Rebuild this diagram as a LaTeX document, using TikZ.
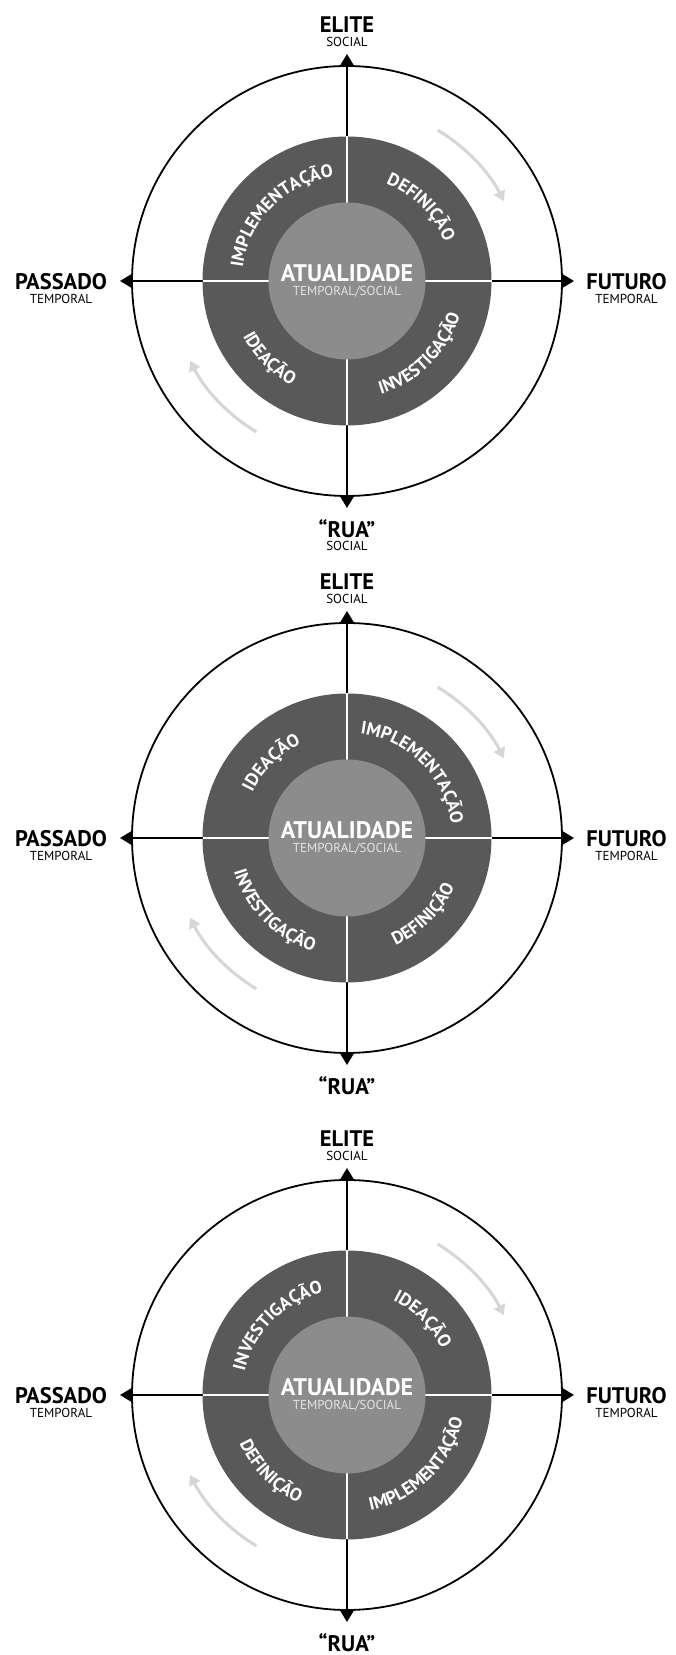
\documentclass[tikz,border=0pt]{standalone}
\usepackage{fontspec}
\setmainfont{PT Sans}
\usetikzlibrary{arrows.meta,decorations.text}
\definecolor{ringdark}{HTML}{595959}
\definecolor{coregray}{HTML}{8C8C8C}
\definecolor{cyclegray}{HTML}{D6D6D6}
\definecolor{subwhite}{HTML}{E4E4E4}
\newcommand\ringfont{\color{white}\bfseries\fontsize{18}{21}\selectfont}
\tikzset{
  axisline/.style={line width=1.8pt, -{Triangle[width=14pt,length=12pt]}},
  outercircle/.style={line width=1.8pt},
  sepline/.style={white, line width=2.6pt},
  cyclearrow/.style={cyclegray, line width=3pt, -{Triangle[width=12pt,length=10pt]}},
  bigbold/.style={font=\bfseries\fontsize{22.5}{26}\selectfont, inner sep=0pt, anchor=base},
  smalllabel/.style={font=\fontsize{13}{15}\selectfont, inner sep=0pt, anchor=base},
  coretitle/.style={font=\bfseries\fontsize{24}{28}\selectfont, text=white, inner sep=0pt, anchor=base},
  coresub/.style={font=\fontsize{13}{15}\selectfont, text=subwhite, inner sep=0pt, anchor=base},
}
% #1 prefix, #2 centre y, #3 top-left, #4 top-right, #5 bottom-left, #6 bottom-right
\newcommand\onediagram[6]{%
\begin{scope}[shift={(347,#2)}]
  \coordinate (#1c) at (0,0);
  \coordinate (#1n) at (0,227);
  \coordinate (#1s) at (0,-227);
  \coordinate (#1w) at (-227,0);
  \coordinate (#1e) at (227,0);
  \draw[axisline] (#1c) -- (#1n);
  \draw[axisline] (#1c) -- (#1s);
  \draw[axisline] (#1c) -- (#1w);
  \draw[axisline] (#1c) -- (#1e);
  \draw[outercircle] (#1c) circle[radius=215];
  \fill[ringdark] (#1c) circle[radius=144.5];
  \draw[sepline] (-144.5,0) -- (144.5,0);
  \draw[sepline] (0,-144.5) -- (0,144.5);
  \fill[coregray] (#1c) circle[radius=78.5];
  \path[decorate,decoration={text along path,text align=center,text={|\ringfont|#3}}]
    (180:105) arc[start angle=180,end angle=90,radius=105];
  \path[decorate,decoration={text along path,text align=center,text={|\ringfont|#4}}]
    (90:105) arc[start angle=90,end angle=0,radius=105];
  \path[decorate,decoration={text along path,text align=center,text={|\ringfont|#5}}]
    (180:118) arc[start angle=180,end angle=270,radius=118];
  \path[decorate,decoration={text along path,text align=center,text={|\ringfont|#6}}]
    (270:118) arc[start angle=270,end angle=360,radius=118];
  \draw[cyclearrow] (59:176) arc[start angle=59,end angle=27,radius=176];
  \draw[cyclearrow] (239:176) arc[start angle=239,end angle=207,radius=176];
  \node[coretitle] (#1atual) at (0,-0.5) {ATUALIDADE};
  \node[coresub] (#1atualsub) at (0,-14.5) {TEMPORAL/SOCIAL};
  \node[bigbold] (#1elite) at (0,248) {ELITE};
  \node[smalllabel] (#1elitesub) at (0,234.5) {SOCIAL};
  \node[bigbold] (#1rua) at (0,-256.5) {“RUA”};
  \node[bigbold] (#1passado) at (-286,-9) {PASSADO};
  \node[smalllabel] (#1passadosub) at (-286,-23) {TEMPORAL};
  \node[bigbold] (#1futuro) at (279.5,-9) {FUTURO};
  \node[smalllabel] (#1futurosub) at (279.5,-23) {TEMPORAL};
\end{scope}}

\begin{document}
\begin{tikzpicture}[x=1pt,y=1pt]
\useasboundingbox[fill=white] (0,0) rectangle (675,1655);
\onediagram{a}{1374}{IMPLEMENTAÇÃO}{DEFINIÇÃO}{IDEAÇÃO}{INVESTIGAÇÃO}
\node[smalllabel] (aruasub) at (347,1374-269.5) {SOCIAL};
\onediagram{b}{817}{IDEAÇÃO}{IMPLEMENTAÇÃO}{INVESTIGAÇÃO}{DEFINIÇÃO}
\onediagram{d}{260}{INVESTIGAÇÃO}{IDEAÇÃO}{DEFINIÇÃO}{IMPLEMENTAÇÃO}
\end{tikzpicture}
\end{document}
